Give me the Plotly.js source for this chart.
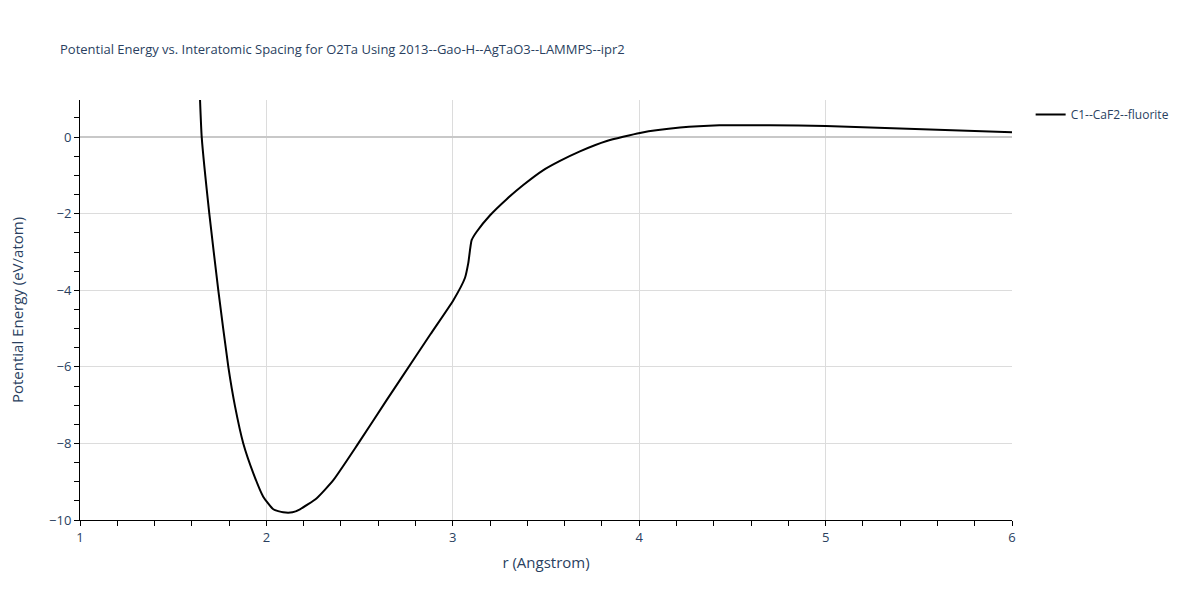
<!DOCTYPE html>
<html>
<head>
<meta charset="utf-8">
<script src="https://cdn.plot.ly/plotly-3.0.1.min.js"></script>
<style>html,body{margin:0;padding:0;background:#fff;}#chart{width:1200px;height:600px;}</style>
</head>
<body>
<div id="chart"></div>
<script>
const seriesName = "C1--CaF2--fluorite";
const rValues = [1.644, 1.653, 1.694, 1.742, 1.796, 1.832, 1.876, 1.930, 1.983, 2.037, 2.09, 2.14, 2.18, 2.27, 2.359, 2.493, 2.645, 2.72, 2.88, 3.003, 3.065, 3.083, 3.101, 3.128, 3.20, 3.289, 3.378, 3.486, 3.575, 3.682, 3.826, 4.004, 4.219, 4.43, 4.70, 5.0, 6.0];
const energyValues = [0.97, 0.0, -2.01, -4.0, -6.01, -7.04, -8.0, -8.78, -9.39, -9.72, -9.80, -9.80, -9.72, -9.43, -8.96, -8.0, -6.87, -6.32, -5.15, -4.26, -3.68, -3.29, -2.69, -2.47, -2.04, -1.62, -1.25, -0.86, -0.62, -0.37, -0.10, 0.11, 0.25, 0.31, 0.31, 0.29, 0.13];
const titleText = "Potential Energy vs. Interatomic Spacing for O2Ta Using 2013--Gao-H--AgTaO3--LAMMPS--ipr2";
const xTitle = "r (Angstrom)";
const yTitle = "Potential Energy (eV/atom)";

const trace = {
  x: rValues, y: energyValues, type: 'scatter', mode: 'lines', name: seriesName,
  line: {color: 'black', width: 2, shape: 'spline', smoothing: 0.5}
};
const layout = {
  width: 1200, height: 600,
  margin: {l: 80, r: 188, t: 100, b: 80},
  paper_bgcolor: 'white', plot_bgcolor: 'white',
  font: {color: '#2a3f5f'},
  title: {text: titleText, x: 0.05, xref: 'container', y: 0.925, font: {size: 13, color: '#2a3f5f'}},
  showlegend: true,
  legend: {x: 1.02, y: 1, xanchor: 'left', yanchor: 'top', font: {size: 12}},
  xaxis: {
    title: {text: xTitle, font: {size: 15}, standoff: 12},
    range: [1, 6], dtick: 1, showgrid: true, gridcolor: '#dcdcdc',
    showline: true, linecolor: 'black', linewidth: 1,
    ticks: 'outside', ticklen: 5, tickcolor: 'black', tickfont: {size: 13},
    minor: {dtick: 0.2, ticks: 'outside', ticklen: 5, tickcolor: 'black', showgrid: false},
    zeroline: false
  },
  yaxis: {
    title: {text: yTitle, font: {size: 15}, standoff: 21},
    range: [-10, 0.97], dtick: 2, showgrid: true, gridcolor: '#dcdcdc',
    showline: true, linecolor: 'black', linewidth: 1,
    ticks: 'outside', ticklen: 5, tickcolor: 'black', tickfont: {size: 13},
    minor: {dtick: 0.5, ticks: 'outside', ticklen: 5, tickcolor: 'black', showgrid: false},
    zeroline: true, zerolinecolor: '#c8c8c8', zerolinewidth: 2
  }
};
Plotly.newPlot('chart', [trace], layout, {displayModeBar: false});
</script>
</body>
</html>
